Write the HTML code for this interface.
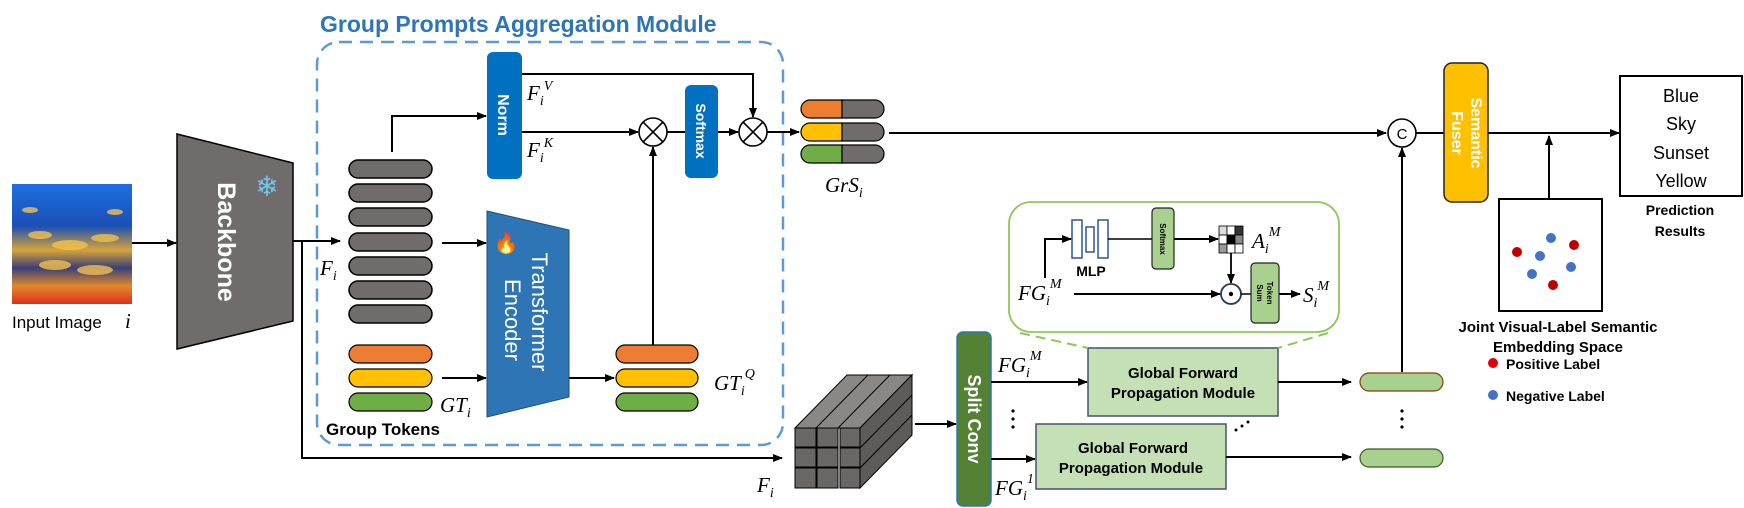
<!DOCTYPE html>
<html><head><meta charset="utf-8"><style>
html,body{margin:0;padding:0;background:#fff;}
svg{display:block;}
text{font-family:"Liberation Sans",sans-serif;}
.m{font-family:"Liberation Serif",serif;font-style:italic;font-size:21px;fill:#000;}
.ms{font-family:"Liberation Serif",serif;font-style:italic;font-size:14px;}
.b{font-weight:bold;}
</style></head><body>
<svg width="1744" height="508" viewBox="0 0 1744 508" xmlns="http://www.w3.org/2000/svg">
<defs>
<marker id="ar" markerWidth="10" markerHeight="8" refX="9" refY="4" orient="auto" markerUnits="userSpaceOnUse"><path d="M0,0 L10,4 L0,8 z" fill="#000"/></marker>
<linearGradient id="sky" x1="0" y1="0" x2="0" y2="1">
<stop offset="0" stop-color="#1d6fe0"/><stop offset="0.35" stop-color="#1b4fb5"/><stop offset="0.55" stop-color="#d6a33a"/><stop offset="0.7" stop-color="#3a3f7a"/><stop offset="0.85" stop-color="#e08a2a"/><stop offset="1" stop-color="#e0301a"/></linearGradient>
</defs>

<!-- input image -->
<rect x="12" y="184" width="120" height="120" fill="url(#sky)"/>
<g fill="#f2c14e" opacity="0.8">
<ellipse cx="40" cy="235" rx="12" ry="4"/><ellipse cx="70" cy="245" rx="18" ry="5"/><ellipse cx="105" cy="238" rx="14" ry="4"/><ellipse cx="55" cy="265" rx="16" ry="5"/><ellipse cx="95" cy="270" rx="18" ry="5"/><ellipse cx="30" cy="210" rx="8" ry="3"/><ellipse cx="115" cy="212" rx="8" ry="3"/>
</g>
<text x="12" y="328" font-size="17">Input Image</text>
<text x="125" y="328" class="m" font-size="20">i</text>
<line x1="132" y1="243" x2="176" y2="243" stroke="#000" stroke-width="2" marker-end="url(#ar)"/>

<!-- backbone -->
<polygon points="177,134 293,163 293,321 177,349" fill="#706c6c" stroke="#000" stroke-width="1.5"/>
<text transform="translate(218,242) rotate(90)" text-anchor="middle" font-size="25" class="b" fill="#fff">Backbone</text>
<text x="267" y="196" text-anchor="middle" font-size="28" fill="#6ec6f0">❄</text>

<!-- title and dashed box -->
<text x="320" y="32" font-size="23" class="b" fill="#2E75B6">Group Prompts Aggregation Module</text>
<rect x="317" y="42" width="466" height="403" rx="22" fill="none" stroke="#5B9BD5" stroke-width="2.5" stroke-dasharray="13,8"/>

<!-- F_i lines -->
<line x1="293" y1="241" x2="340" y2="241" stroke="#000" stroke-width="2" marker-end="url(#ar)"/>
<polyline points="302,241 302,458 782,458" fill="none" stroke="#000" stroke-width="2" marker-end="url(#ar)"/>
<text x="320" y="275" class="m">F<tspan class="ms" dy="5">i</tspan></text>

<!-- gray pills -->
<g fill="#706c6c" stroke="#000" stroke-width="1.5">
<rect x="349" y="160" width="83" height="18" rx="9"/><rect x="349" y="184" width="83" height="18" rx="9"/><rect x="349" y="208" width="83" height="18" rx="9"/><rect x="349" y="233" width="83" height="18" rx="9"/><rect x="349" y="257" width="83" height="18" rx="9"/><rect x="349" y="281" width="83" height="18" rx="9"/><rect x="349" y="305" width="83" height="18" rx="9"/>
</g>
<g stroke="#000" stroke-width="1.2">
<rect x="349" y="345" width="83" height="18" rx="9" fill="#ED7D31"/><rect x="349" y="369" width="83" height="18" rx="9" fill="#FFC000"/><rect x="349" y="393" width="83" height="18" rx="9" fill="#70AD47"/>
</g>
<text x="440" y="412" class="m">GT<tspan class="ms" dy="5">i</tspan></text>
<text x="326" y="435" font-size="17" class="b">Group Tokens</text>

<polyline points="392,152 392,116 486,116" fill="none" stroke="#000" stroke-width="2" marker-end="url(#ar)"/>
<line x1="442" y1="243" x2="486" y2="243" stroke="#000" stroke-width="2" marker-end="url(#ar)"/>
<line x1="442" y1="378" x2="486" y2="378" stroke="#000" stroke-width="2" marker-end="url(#ar)"/>

<!-- Norm -->
<rect x="487" y="52" width="35" height="127" rx="6" fill="#0070C0"/>
<text transform="translate(498,115) rotate(90)" text-anchor="middle" font-size="16" class="b" fill="#fff">Norm</text>

<!-- Transformer encoder -->
<polygon points="487,211 569,230 569,397 487,417" fill="#2E75B6" stroke="#1f4e79" stroke-width="1"/>
<text transform="translate(532,312) rotate(90)" text-anchor="middle" font-size="22" fill="#fff">Transformer</text>
<text transform="translate(505,320) rotate(90)" text-anchor="middle" font-size="22" fill="#fff">Encoder</text>
<text x="506" y="250" text-anchor="middle" font-size="20">🔥</text>

<!-- attention -->
<polyline points="522,74 753,74 753,117" fill="none" stroke="#000" stroke-width="2" marker-end="url(#ar)"/>
<line x1="522" y1="132" x2="638" y2="132" stroke="#000" stroke-width="2" marker-end="url(#ar)"/>
<text x="527" y="100" class="m">F<tspan class="ms" dy="5">i</tspan><tspan class="ms" dy="-15">V</tspan></text>
<text x="527" y="157" class="m">F<tspan class="ms" dy="5">i</tspan><tspan class="ms" dy="-15">K</tspan></text>
<g fill="#fff" stroke="#000" stroke-width="1.6">
<circle cx="653" cy="132" r="14"/><circle cx="753" cy="132" r="14"/>
</g>
<g stroke="#000" stroke-width="1.6">
<line x1="643" y1="122" x2="663" y2="142"/><line x1="663" y1="122" x2="643" y2="142"/>
<line x1="743" y1="122" x2="763" y2="142"/><line x1="763" y1="122" x2="743" y2="142"/>
</g>
<line x1="667" y1="132" x2="685" y2="132" stroke="#000" stroke-width="2"/>
<rect x="685" y="85" width="33" height="93" rx="6" fill="#0070C0"/>
<text transform="translate(696,131) rotate(90)" text-anchor="middle" font-size="14" class="b" fill="#fff">Softmax</text>
<line x1="718" y1="132" x2="738" y2="132" stroke="#000" stroke-width="2" marker-end="url(#ar)"/>
<line x1="653" y1="345" x2="653" y2="147" stroke="#000" stroke-width="2" marker-end="url(#ar)"/>
<line x1="767" y1="132" x2="799" y2="132" stroke="#000" stroke-width="2" marker-end="url(#ar)"/>

<!-- GT^Q -->
<g stroke="#000" stroke-width="1.2">
<rect x="616" y="345" width="82" height="18" rx="9" fill="#ED7D31"/><rect x="616" y="369" width="82" height="18" rx="9" fill="#FFC000"/><rect x="616" y="393" width="82" height="18" rx="9" fill="#70AD47"/>
</g>
<line x1="569" y1="378" x2="614" y2="378" stroke="#000" stroke-width="2" marker-end="url(#ar)"/>
<text x="714" y="390" class="m">GT<tspan class="ms" dy="5">i</tspan><tspan class="ms" dy="-17">Q</tspan></text>

<!-- GrS pills -->
<g stroke="#000" stroke-width="1.2">
<path d="M810,100 H842 V118 H810 A9,9 0 0 1 810,100 z" fill="#ED7D31"/><path d="M842,100 H875 A9,9 0 0 1 875,118 H842 z" fill="#706c6c"/>
<path d="M810,123 H842 V141 H810 A9,9 0 0 1 810,123 z" fill="#FFC000"/><path d="M842,123 H875 A9,9 0 0 1 875,141 H842 z" fill="#706c6c"/>
<path d="M810,145 H842 V163 H810 A9,9 0 0 1 810,145 z" fill="#70AD47"/><path d="M842,145 H875 A9,9 0 0 1 875,163 H842 z" fill="#706c6c"/>
</g>
<text x="825" y="192" class="m">GrS<tspan class="ms" dy="5">i</tspan></text>
<line x1="889" y1="133" x2="1386" y2="133" stroke="#000" stroke-width="2" marker-end="url(#ar)"/>

<!-- cube -->
<g stroke="#000" stroke-width="1">
<polygon points="795,428 847,375 912,375 860,428" fill="#8a8787"/>
<polygon points="860,428 912,375 912,435 860,488" fill="#5e5b5b"/>
<g fill="#6a6767">
<rect x="795" y="428" width="21" height="19"/><rect x="817" y="428" width="21" height="19"/><rect x="840" y="428" width="20" height="19"/>
<rect x="795" y="448" width="21" height="19"/><rect x="817" y="448" width="21" height="19"/><rect x="840" y="448" width="20" height="19"/>
<rect x="795" y="468" width="21" height="20"/><rect x="817" y="468" width="21" height="20"/><rect x="840" y="468" width="20" height="20"/>
</g>
<line x1="816" y1="428" x2="868" y2="375"/><line x1="838" y1="428" x2="890" y2="375"/>
<line x1="860" y1="448" x2="912" y2="395"/><line x1="860" y1="468" x2="912" y2="415"/>
</g>
<text x="757" y="492" class="m">F<tspan class="ms" dy="5">i</tspan></text>
<line x1="915" y1="424" x2="956" y2="424" stroke="#000" stroke-width="2" marker-end="url(#ar)"/>

<!-- Split conv -->
<rect x="957" y="332" width="34" height="174" rx="6" fill="#548235" stroke="#2E75B6" stroke-width="1.5"/>
<text transform="translate(968,419) rotate(90)" text-anchor="middle" font-size="18" class="b" fill="#fff">Split Conv</text>
<line x1="991" y1="382" x2="1087" y2="382" stroke="#000" stroke-width="2" marker-end="url(#ar)"/>
<line x1="991" y1="459" x2="1035" y2="459" stroke="#000" stroke-width="2" marker-end="url(#ar)"/>
<text x="998" y="372" class="m">FG<tspan class="ms" dy="5">i</tspan><tspan class="ms" dy="-17">M</tspan></text>
<text x="995" y="495" class="m">FG<tspan class="ms" dy="5">i</tspan><tspan class="ms" dy="-17">1</tspan></text>
<g fill="#000"><circle cx="1013" cy="411" r="1.6"/><circle cx="1013" cy="419" r="1.6"/><circle cx="1013" cy="427" r="1.6"/></g>

<!-- GFPM -->
<rect x="1088" y="348" width="190" height="68" fill="#C5E0B4" stroke="#44546A" stroke-width="1.5"/>
<text x="1183" y="378" text-anchor="middle" font-size="15" class="b">Global Forward</text>
<text x="1183" y="398" text-anchor="middle" font-size="15" class="b">Propagation Module</text>
<rect x="1036" y="424" width="190" height="65" fill="#C5E0B4" stroke="#44546A" stroke-width="1.5"/>
<text x="1133" y="453" text-anchor="middle" font-size="15" class="b">Global Forward</text>
<text x="1131" y="473" text-anchor="middle" font-size="15" class="b">Propagation Module</text>
<g fill="#000"><circle cx="1236" cy="430" r="1.5"/><circle cx="1242" cy="426" r="1.5"/><circle cx="1248" cy="422" r="1.5"/></g>
<line x1="1278" y1="382" x2="1351" y2="382" stroke="#000" stroke-width="2" marker-end="url(#ar)"/>
<line x1="1226" y1="457" x2="1351" y2="457" stroke="#000" stroke-width="2" marker-end="url(#ar)"/>
<rect x="1360" y="373" width="83" height="18" rx="9" fill="#A9D18E" stroke="#843C0C" stroke-width="1.2"/>
<rect x="1360" y="449" width="83" height="18" rx="9" fill="#A9D18E" stroke="#385723" stroke-width="1.2"/>
<g fill="#000"><circle cx="1402" cy="411" r="1.6"/><circle cx="1402" cy="419" r="1.6"/><circle cx="1402" cy="427" r="1.6"/></g>
<line x1="1402" y1="372" x2="1402" y2="148" stroke="#000" stroke-width="2" marker-end="url(#ar)"/>

<!-- callout -->
<rect x="1009" y="202" width="330" height="130" rx="22" fill="#fff" stroke="#8FC65A" stroke-width="1.8"/>
<line x1="1020" y1="333" x2="1088" y2="348" stroke="#8FC65A" stroke-width="2" stroke-dasharray="10,6"/>
<line x1="1328" y1="333" x2="1278" y2="348" stroke="#8FC65A" stroke-width="2" stroke-dasharray="10,6"/>
<g fill="#fff" stroke="#2F5597" stroke-width="1.5">
<rect x="1072" y="220" width="10" height="38"/><rect x="1086" y="227" width="8" height="25"/><rect x="1098" y="220" width="10" height="38"/>
</g>
<text x="1091" y="276" text-anchor="middle" font-size="14" class="b">MLP</text>
<polyline points="1045,278 1045,239 1071,239" fill="none" stroke="#000" stroke-width="2" marker-end="url(#ar)"/>
<line x1="1108" y1="239" x2="1152" y2="239" stroke="#000" stroke-width="1.5"/>
<rect x="1152" y="208" width="22" height="61" rx="4" fill="#A9D18E" stroke="#222" stroke-width="1.2"/>
<text transform="translate(1160,239) rotate(90)" text-anchor="middle" font-size="8" class="b">Softmax</text>
<line x1="1174" y1="239" x2="1218" y2="239" stroke="#000" stroke-width="2" marker-end="url(#ar)"/>
<g stroke="#000" stroke-width="0.8">
<rect x="1219" y="226" width="8" height="9" fill="#ddd"/><rect x="1227" y="226" width="8" height="9" fill="#fff"/><rect x="1235" y="226" width="8" height="9" fill="#333"/>
<rect x="1219" y="235" width="8" height="9" fill="#fff"/><rect x="1227" y="235" width="8" height="9" fill="#000"/><rect x="1235" y="235" width="8" height="9" fill="#888"/>
<rect x="1219" y="244" width="8" height="9" fill="#999"/><rect x="1227" y="244" width="8" height="9" fill="#fff"/><rect x="1235" y="244" width="8" height="9" fill="#fff"/>
</g>
<text x="1252" y="248" class="m">A<tspan class="ms" dy="5">i</tspan><tspan class="ms" dy="-17">M</tspan></text>
<line x1="1231" y1="253" x2="1231" y2="283" stroke="#000" stroke-width="1.8" marker-end="url(#ar)"/>
<text x="1018" y="300" class="m">FG<tspan class="ms" dy="5">i</tspan><tspan class="ms" dy="-17">M</tspan></text>
<line x1="1074" y1="294" x2="1220" y2="294" stroke="#000" stroke-width="2" marker-end="url(#ar)"/>
<circle cx="1231" cy="294" r="10" fill="#fff" stroke="#1F3864" stroke-width="1.8"/>
<circle cx="1231" cy="294" r="2.2" fill="#000"/>
<line x1="1241" y1="294" x2="1251" y2="294" stroke="#000" stroke-width="1.5"/>
<rect x="1251" y="263" width="28" height="60" rx="4" fill="#A9D18E" stroke="#222" stroke-width="1.2"/>
<text transform="translate(1267,293) rotate(90)" text-anchor="middle" font-size="8" class="b">Token</text>
<text transform="translate(1257,293) rotate(90)" text-anchor="middle" font-size="8" class="b">Sum</text>
<line x1="1279" y1="294" x2="1300" y2="294" stroke="#000" stroke-width="2" marker-end="url(#ar)"/>
<text x="1303" y="302" class="m">S<tspan class="ms" dy="5">i</tspan><tspan class="ms" dy="-17">M</tspan></text>

<!-- concat, fuser -->
<circle cx="1402" cy="133" r="14" fill="#fff" stroke="#000" stroke-width="1.6"/>
<text x="1402" y="139" text-anchor="middle" font-size="15">C</text>
<line x1="1416" y1="133" x2="1444" y2="133" stroke="#000" stroke-width="2"/>
<rect x="1444" y="63" width="44" height="139" rx="8" fill="#FFC000" stroke="#222" stroke-width="1.5"/>
<text transform="translate(1471,133) rotate(90)" text-anchor="middle" font-size="16" class="b" fill="#fff">Semantic</text>
<text transform="translate(1452,133) rotate(90)" text-anchor="middle" font-size="16" class="b" fill="#fff">Fuser</text>
<line x1="1488" y1="133" x2="1619" y2="133" stroke="#000" stroke-width="2" marker-end="url(#ar)"/>
<line x1="1549" y1="198" x2="1549" y2="136" stroke="#000" stroke-width="2" marker-end="url(#ar)"/>

<!-- prediction -->
<rect x="1620" y="76" width="122" height="120" fill="#fff" stroke="#000" stroke-width="2"/>
<g font-size="18" text-anchor="middle"><text x="1681" y="102">Blue</text><text x="1681" y="130">Sky</text><text x="1681" y="159">Sunset</text><text x="1681" y="187">Yellow</text></g>
<text x="1680" y="215" text-anchor="middle" font-size="14" class="b">Prediction</text>
<text x="1680" y="236" text-anchor="middle" font-size="14" class="b">Results</text>

<!-- embedding -->
<rect x="1499" y="199" width="103" height="112" fill="#fff" stroke="#000" stroke-width="2"/>
<g fill="#C00000"><circle cx="1517" cy="252" r="5"/><circle cx="1574" cy="245" r="5"/><circle cx="1553" cy="285" r="5"/></g>
<g fill="#4472C4"><circle cx="1551" cy="238" r="5"/><circle cx="1540" cy="256" r="5"/><circle cx="1532" cy="274" r="5"/><circle cx="1571" cy="267" r="5"/></g>
<text x="1558" y="332" text-anchor="middle" font-size="15" class="b">Joint Visual-Label Semantic</text>
<text x="1558" y="352" text-anchor="middle" font-size="15" class="b">Embedding Space</text>
<circle cx="1493" cy="363" r="5" fill="#E00000"/>
<text x="1506" y="369" font-size="14" class="b">Positive Label</text>
<circle cx="1493" cy="395" r="5" fill="#4472C4"/>
<text x="1506" y="401" font-size="14" class="b">Negative Label</text>
</svg>
</body></html>
